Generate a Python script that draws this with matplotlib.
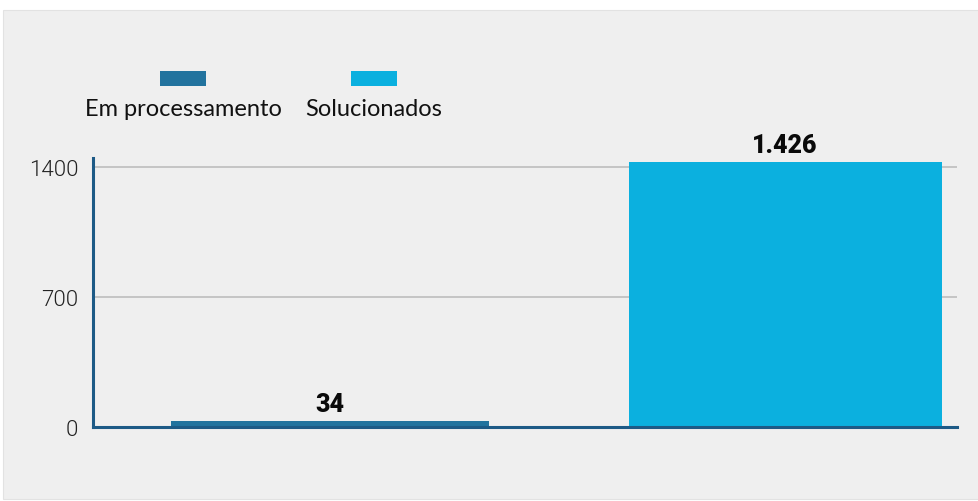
import matplotlib.pyplot as plt
from matplotlib.patches import Rectangle

# Data
categorias = ["Em processamento", "Solucionados"]
valores = [34, 1426]
cores = ["#22739e", "#0bb0df"]
yticks = [0, 700, 1400]

def fmt_br(v):
    # thousands separator with a dot
    return f"{v:,}".replace(",", ".")

fig = plt.figure(figsize=(9.79, 5.02), dpi=100)
fig.patch.set_facecolor("white")

# gray panel behind everything
fig.patches.append(Rectangle((3 / 979, 2 / 502), 976 / 979, 489 / 502,
                             transform=fig.transFigure, facecolor="#efefef",
                             edgecolor="#e2e2e2", linewidth=0.8, zorder=-1))

ax = fig.add_axes([93 / 979, 74 / 502, 864 / 979, 269 / 502])
ax.set_facecolor("none")

x = list(range(len(valores)))
bars = ax.bar(x, valores, width=[0.70, 0.688], color=cores, zorder=3)
ax.bar_label(bars, labels=[fmt_br(v) for v in valores], padding=3.5,
             fontsize=18, fontweight=900, fontfamily="Roboto",
             color="#0a0a0a")

ax.set_xlim(-0.521, 1.378)
ax.set_ylim(0, 1448)
ax.set_yticks(yticks)
ax.set_yticklabels([str(t) for t in yticks], fontsize=16, color="#222222",
                   fontfamily="Roboto", fontweight=300)
ax.tick_params(axis="y", length=0, pad=10.5)
ax.set_xticks([])

ax.grid(axis="y", color="#bdbdbd", linewidth=1.2, zorder=1)
for s in ["top", "right"]:
    ax.spines[s].set_visible(False)
for s in ["left", "bottom"]:
    ax.spines[s].set_color("#1d5a86")
    ax.spines[s].set_linewidth(2.2)
    ax.spines[s].set_zorder(4)

# legend: colour block above each label
leg_centers = [183, 374]
for nome, cor, cx in zip(categorias, cores, leg_centers):
    fig.patches.append(Rectangle(((cx - 23) / 979, (502 - 87) / 502), 46 / 979, 15 / 502,
                                 transform=fig.transFigure, facecolor=cor,
                                 edgecolor="none", zorder=2))
    fig.text(cx / 979, (502 - 110) / 502, nome, ha="center", va="center",
             fontsize=17, fontfamily="Lato", color="#111111")

fig.savefig("out.png", dpi=100)
